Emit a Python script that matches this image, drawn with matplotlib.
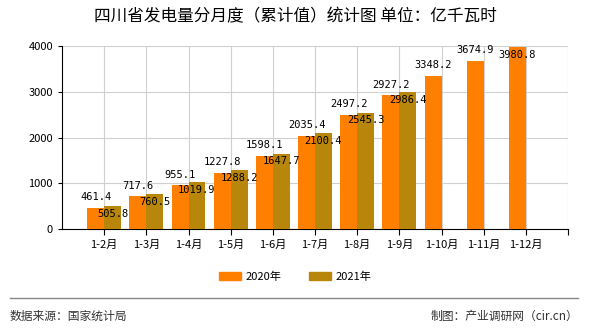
import numpy as np
import matplotlib.pyplot as plt
from matplotlib.patches import Patch

plt.rcParams['font.family'] = ['Noto Sans CJK SC', 'DejaVu Sans']

months = ["1-2月", "1-3月", "1-4月", "1-5月", "1-6月", "1-7月",
          "1-8月", "1-9月", "1-10月", "1-11月", "1-12月"]
v2020 = [461.4, 717.6, 955.1, 1227.8, 1598.1, 2035.4,
         2497.2, 2927.2, 3348.2, 3674.9, 3980.8]
v2021 = [505.8, 760.5, 1019.9, 1288.2, 1647.7, 2100.4,
         2545.3, 2986.4]

c2020 = "#FF8000"
c2021 = "#B8860B"
ymax = 4000

fig = plt.figure(figsize=(5.9, 3.3), dpi=100)
ax = fig.add_axes([62 / 590, 1 - 229 / 330, 506 / 590, 183 / 330])

x = np.arange(len(months))
w = 0.4
ax.bar(x - w / 2, v2020, w, color=c2020, zorder=3)
ax.bar(x[:len(v2021)] + w / 2, v2021, w, color=c2021, zorder=3)

# labels that would leave the plot area are pushed back inside, like the original
for i, v in enumerate(v2020):
    if v > ymax - 250:
        ax.annotate("%.1f" % v, (x[i] - w / 2, ymax), xytext=(0, -3), textcoords="offset points",
                    ha="center", va="top", fontsize=7.5, family="DejaVu Sans Mono", zorder=4)
    else:
        ax.annotate("%.1f" % v, (x[i] - w / 2, v), xytext=(0, 4), textcoords="offset points",
                    ha="center", va="bottom", fontsize=7.5, family="DejaVu Sans Mono", zorder=4)
for i, v in enumerate(v2021):
    ax.annotate("%.1f" % v, (x[i] + w / 2, v), xytext=(0, -2), textcoords="offset points",
                ha="center", va="top", fontsize=7.5, family="DejaVu Sans Mono", zorder=4)

ax.set_xlim(-1, 11)
ax.set_ylim(0, ymax)
ax.set_yticks([0, 1000, 2000, 3000, 4000])
ax.set_xticks(list(x) + [10.999])
ax.set_xticklabels(months + [""], fontsize=8)
ax.tick_params(axis="y", labelsize=8, length=3)
ax.tick_params(axis="x", length=4)
ax.grid(True, color="#d0d0d0", linewidth=0.8, zorder=0)
for s in ["top", "right"]:
    ax.spines[s].set_visible(False)
ax.spines["left"].set_color("black")
ax.spines["bottom"].set_color("black")

fig.text(0.5, 1 - 17 / 330, "四川省发电量分月度（累计值）统计图 单位：亿千瓦时",
         ha="center", va="center", fontsize=12)

handles = [Patch(color=c2020, label="2020年"), Patch(color=c2021, label="2021年")]
fig.legend(handles=handles, loc="center", bbox_to_anchor=(0.5, 1 - 277 / 330), ncol=2,
           frameon=False, fontsize=8, handlelength=2.0, handleheight=0.7, columnspacing=2.5,
           handletextpad=0.4)

fig.add_artist(plt.Line2D([10 / 590, 578 / 590], [1 - 298 / 330, 1 - 298 / 330],
                          color="#888888", linewidth=1))
fig.text(10 / 590, 1 - 316 / 330, "数据来源：国家统计局", ha="left", va="center", fontsize=8.5,
         color="#333333")
fig.text(578 / 590, 1 - 316 / 330, "制图：产业调研网（cir.cn）", ha="right", va="center",
         fontsize=8.5, color="#333333")

fig.savefig("out.png", dpi=100)
